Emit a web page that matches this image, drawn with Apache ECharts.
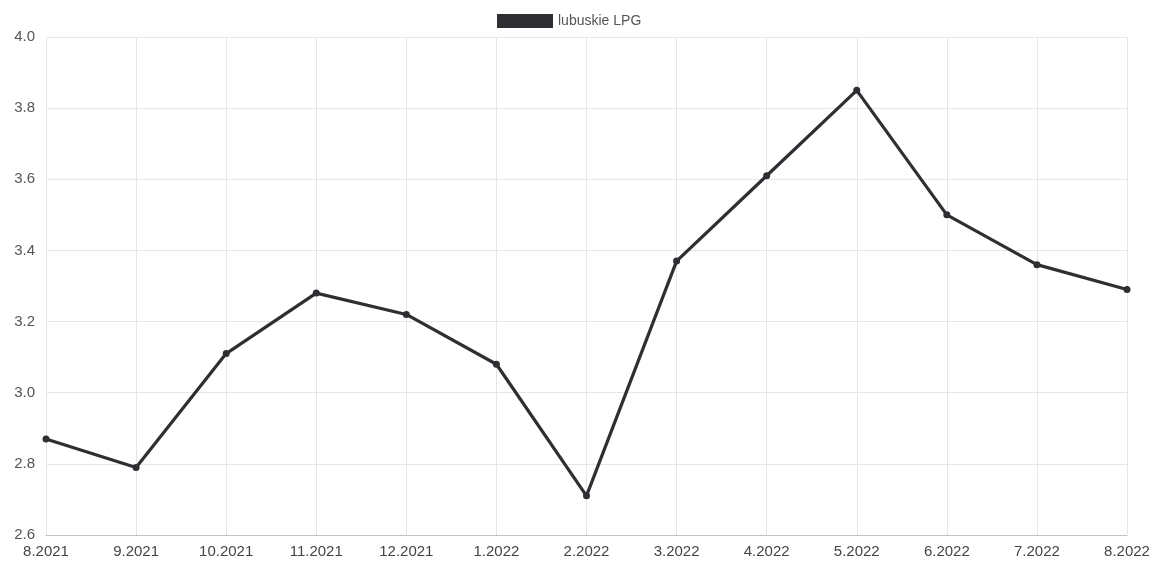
<!DOCTYPE html>
<html>
<head>
<meta charset="utf-8">
<script src="https://cdn.jsdelivr.net/npm/echarts@6/dist/echarts.min.js"></script>
<style>
html,body{margin:0;padding:0;background:#fff;}
#chart{width:1157px;height:574px;}
</style>
</head>
<body>
<div id="chart"></div>
<script>
const categories = ["8.2021","9.2021","10.2021","11.2021","12.2021","1.2022","2.2022","3.2022","4.2022","5.2022","6.2022","7.2022","8.2022"];
const seriesName = "lubuskie LPG";
const values = [2.87, 2.79, 3.11, 3.28, 3.22, 3.08, 2.71, 3.37, 3.61, 3.85, 3.50, 3.36, 3.29];
const yMin = 2.6, yMax = 4.0, yStep = 0.2;

const chart = echarts.init(document.getElementById('chart'));
chart.setOption({
  animation: false,
  backgroundColor: '#ffffff',
  textStyle: { fontFamily: 'Liberation Sans, Arial, sans-serif' },
  legend: {
    top: 9,
    left: 492,
    icon: 'rect',
    itemWidth: 56,
    itemHeight: 14,
    itemGap: 10,
    textStyle: { color: '#555', fontSize: 14, fontFamily: 'Liberation Sans, Arial, sans-serif' },
    data: [{ name: seriesName, itemStyle: { color: '#2e2e33' } }]
  },
  grid: { left: 46, right: 30, top: 37, bottom: 39, containLabel: false },
  xAxis: {
    type: 'category',
    data: categories,
    boundaryGap: false,
    axisLine: { show: true, lineStyle: { color: '#bbb', type: 'dotted', width: 1 } },
    axisTick: { show: false },
    axisLabel: { color: '#444', fontSize: 15, margin: 9, interval: 0 },
    splitLine: { show: true, lineStyle: { color: '#e6e6e6', width: 1 } }
  },
  yAxis: {
    type: 'value',
    min: yMin,
    max: yMax,
    interval: yStep,
    axisLine: { show: false },
    axisTick: { show: false },
    axisLabel: { color: '#555', fontSize: 15, margin: 11, formatter: v => v.toFixed(1) },
    splitLine: { show: true, lineStyle: { color: '#e6e6e6', width: 1 } }
  },
  series: [{
    name: seriesName,
    type: 'line',
    data: values,
    symbol: 'circle',
    symbolSize: 7,
    lineStyle: { color: '#2e2e33', width: 3.2 },
    itemStyle: { color: '#2e2e33' },
    clip: false
  }]
});
</script>
</body>
</html>
